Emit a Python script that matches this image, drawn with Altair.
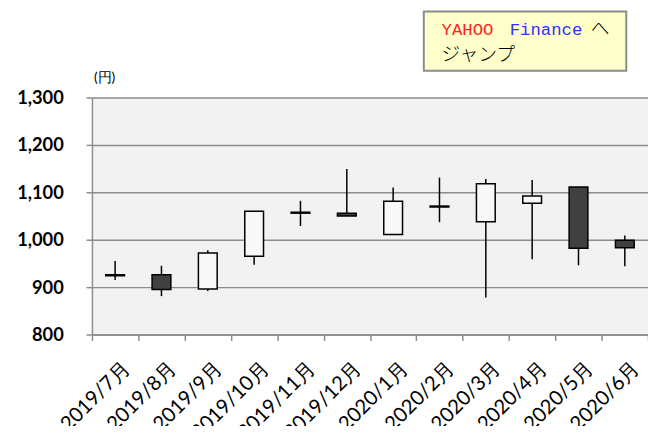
import altair as alt
import pandas as pd

months = ["2019/7月", "2019/8月", "2019/9月", "2019/10月", "2019/11月", "2019/12月",
          "2020/1月", "2020/2月", "2020/3月", "2020/4月", "2020/5月", "2020/6月"]
open_ = [924, 926, 896, 965, 1056, 1056, 1011, 1069, 1038, 1077, 1111, 999]
close = [926, 895, 972, 1060, 1058, 1050, 1081, 1071, 1118, 1092, 982, 983]
high = [955, 945, 978, 1060, 1082, 1149, 1110, 1131, 1128, 1126, 1111, 1009]
low = [915, 881, 892, 947, 1029, 1050, 1011, 1037, 878, 959, 946, 944]
y_ticks = [800, 900, 1000, 1100, 1200, 1300]

df = pd.DataFrame({"month": months, "open": open_, "close": close, "high": high, "low": low})
df["dir"] = ["down" if o > c else "up" for o, c in zip(open_, close)]

LABEL_FONT = "Lato"

xenc = alt.X("month:N", sort=months, title=None,
             scale=alt.Scale(paddingInner=0, paddingOuter=0),
             axis=alt.Axis(labelAngle=-45, labelFont=LABEL_FONT, labelFontSize=20.5, labelColor="black",
                           domainColor="#8c8c8c", domainWidth=1.5, tickColor="#8c8c8c", tickWidth=1.5,
                           tickSize=6, tickBand="extent", labelPadding=18, labelOffset=4,
                           labelOverlap=False))
yscale = alt.Scale(domain=[800, 1300], nice=False, zero=False)

base = alt.Chart(df)

wick = base.mark_rule(color="black", strokeWidth=1.5).encode(
    x=xenc,
    y=alt.Y("low:Q", scale=yscale, title=None,
            axis=alt.Axis(values=y_ticks, format=",d", labelFont=LABEL_FONT, labelFontWeight="bold",
                          labelFontSize=18.5, labelColor="black", gridColor="#8c8c8c", gridWidth=1.5,
                          domainColor="#8c8c8c", domainWidth=1.5, tickColor="#8c8c8c",
                          tickWidth=1.5, tickSize=6, labelPadding=23)),
    y2="high:Q",
)

body = base.mark_bar(size=19, stroke="black", strokeWidth=1.5).encode(
    x=alt.X("month:N", sort=months),
    y=alt.Y("open:Q", scale=yscale),
    y2="close:Q",
    color=alt.Color("dir:N", scale=alt.Scale(domain=["up", "down"], range=["#f8f8f8", "#404040"]),
                    legend=None),
)

unit = alt.Chart(pd.DataFrame({"k": [0]}))

box = unit.mark_rect(fill="#ffffcc", stroke="#8c8c8c", strokeWidth=2).encode(
    x=alt.value(336), x2=alt.value(541), y=alt.value(-87), y2=alt.value(-27))

t_yahoo = unit.mark_text(text="YAHOO", font="Liberation Mono", fontSize=17.5, color="#ff2020",
                         align="left", baseline="alphabetic").encode(x=alt.value(354), y=alt.value(-63))
t_fin = unit.mark_text(text="Finance", font="Liberation Mono", fontSize=17.5, color="#3030ff",
                       align="left", baseline="alphabetic").encode(x=alt.value(423), y=alt.value(-63))
t_he = unit.mark_text(text="へ", font="Noto Sans CJK JP", fontSize=19, fontWeight=300, color="black",
                      align="left", baseline="alphabetic").encode(x=alt.value(505), y=alt.value(-63))
t_jump = unit.mark_text(text="ジャンプ", font="Noto Sans CJK JP", fontSize=19, fontWeight=300, color="black",
                        align="left", baseline="alphabetic").encode(x=alt.value(354), y=alt.value(-37))
t_unit = unit.mark_text(text="(円)", font=LABEL_FONT, fontSize=14, color="black",
                        align="left", baseline="middle").encode(x=alt.value(2), y=alt.value(-20))

chart = alt.layer(wick, body, box, t_yahoo, t_fin, t_he, t_jump, t_unit).properties(
    width=563, height=240,
    autosize=alt.AutoSizeParams(type="none"),
    padding={"left": 85, "top": 88, "right": 0, "bottom": 90},
    background="white",
).configure_view(stroke=None, fill="#f2f2f2")

chart.save("out.html", embed_options={"renderer": "svg", "actions": False})
